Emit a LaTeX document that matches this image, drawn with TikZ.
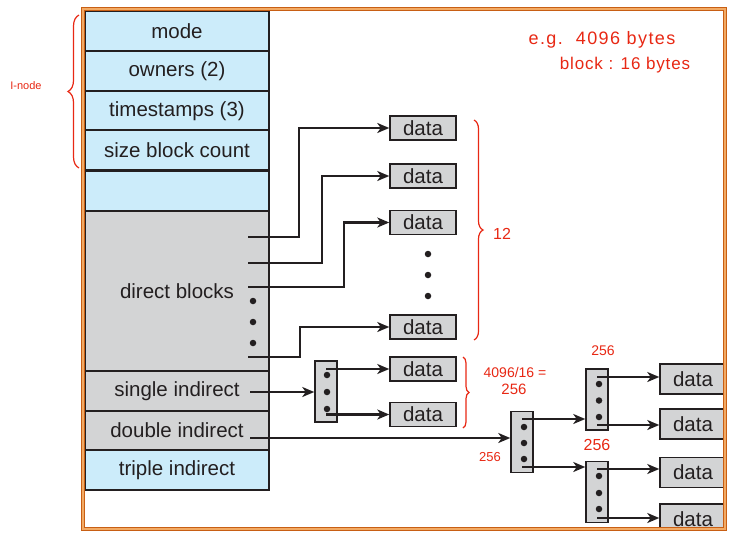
\documentclass[tikz,border=0pt]{standalone}
\usepackage{fontspec}
\setmainfont{Liberation Sans}
\usetikzlibrary{arrows.meta,decorations.pathreplacing,calc}
\definecolor{ablue}{RGB}{204,236,250}
\definecolor{agray}{RGB}{211,212,213}
\definecolor{ink}{RGB}{35,31,32}
\definecolor{hand}{RGB}{232,40,20}
\definecolor{frdark}{RGB}{200,95,20}
\definecolor{frlight}{RGB}{242,170,100}
\begin{document}
\begin{tikzpicture}[x=1pt,y=-1pt,
  row/.style={draw=ink, line width=1.5pt, minimum width=184pt, minimum height=40pt, inner sep=0pt,
    font=\fontsize{20.5}{22}\selectfont, text=ink},
  datasm/.style={draw=ink, line width=1.5pt, fill=agray, minimum width=66pt, minimum height=24pt,
    inner sep=0pt, font=\fontsize{20.5}{22}\selectfont, text=ink},
  databig/.style={datasm, minimum height=30pt},
  idx/.style={draw=ink, line width=1.5pt, fill=agray, minimum width=22pt, minimum height=61pt, inner sep=0pt},
  conn/.style={draw=ink, line width=2.2pt, -{Stealth[length=12pt,width=10pt,inset=3.5pt]}},
  dotn/.style={circle, fill=ink, inner sep=0pt, minimum size=6.5pt},
  hbrace/.style={draw=hand, line width=1.2pt, decorate, decoration={brace, amplitude=#1}},
  note/.style={text=hand, inner sep=0pt}]
\useasboundingbox (0,0) rectangle (735,541);
\fill[white] (0,0) rectangle (735,541);

% inode table
\node[row, fill=ablue] (mode) at (177,31) {mode};
\node[row, fill=ablue] (own) at (177,71) {owners (2)};
\node[row, fill=ablue] (ts) at (177,111) {timestamps (3)};
\node[row, fill=ablue] (sz) at (177,150) {size block count};
\node[row, fill=ablue] (emp) at (177,191) {};
\node[row, fill=agray, minimum height=160pt] (dir) at (177,291) {direct blocks};
\node[row, fill=agray] (sgl) at (177,391) {single indirect};
\node[row, fill=agray, minimum height=39pt] (dbl) at (177,430.5) {double indirect};
\node[row, fill=ablue] (tpl) at (177,470) {triple indirect};

\node[dotn] (dd1) at (253,301) {};
\node[dotn] (dd2) at (253,322) {};
\node[dotn] (dd3) at (253,343) {};

% direct data blocks
\node[datasm] (data1) at (423,128) {data};
\node[datasm] (data2) at (423,176) {data};
\node[datasm] (data3) at (423,222.5) {data};
\node[dotn] (cd1) at (428,254) {};
\node[dotn] (cd2) at (428,275) {};
\node[dotn] (cd3) at (428,296) {};
\node[datasm] (data4) at (423,327) {data};

\coordinate (s1) at (248,237);
\coordinate (s2) at (248,263);
\coordinate (s3) at (248,287);
\coordinate (s4) at (248,357);
\coordinate (s5) at (250,392);
\coordinate (s6) at (250,438);

\draw[conn] (s1) -- ++(51,0) |- (data1.west);
\draw[conn] (s2) -- ++(74,0) |- (data2.west);
\draw[conn] (s3) -- ++(96,0) |- (data3.west);
\draw[conn] (s4) -- ++(52,0) |- (data4.west);

% single indirect
\node[idx] (ind1) at (326,391.5) {};
\node[dotn] at (327,375) {};
\node[dotn] at (327,392) {};
\node[dotn] at (327,409) {};
\node[datasm] (data5) at (423,369) {data};
\node[datasm] (data6) at (423,414.5) {data};
\draw[conn] (s5) -- (s5 -| ind1.west);
\coordinate (i1a) at (326,369);
\coordinate (i1b) at (326,414.5);
\draw[conn] (i1a) -- (data5.west);
\draw[conn] (i1b) -- (data6.west);

% double indirect
\node[idx] (ind2) at (522,442) {};
\node[dotn] at (524,427) {};
\node[dotn] at (524,443) {};
\node[dotn] at (524,459) {};
\node[idx] (ind3) at (597,399.5) {};
\node[dotn] at (599,384) {};
\node[dotn] at (599,400.5) {};
\node[dotn] at (599,417) {};
\node[idx] (ind4) at (597,492) {};
\node[dotn] at (599,476) {};
\node[dotn] at (599,493) {};
\node[dotn] at (599,509) {};
\draw[conn] (s6) -- (s6 -| ind2.west);
\coordinate (i2a) at (522,419);
\coordinate (i2b) at (522,467);
\draw[conn] (i2a) -- (i2a -| ind3.west);
\draw[conn] (i2b) -- (i2b -| ind4.west);

\begin{scope}
\clip (0,0) rectangle (723.5,527.5);
\node[databig] (data7) at (693,379) {data};
\node[databig] (data8) at (693,424) {data};
\node[databig] (data9) at (693,472.5) {data};
\node[databig] (data10) at (693,519) {data};
\end{scope}
\coordinate (i3a) at (597,377);
\coordinate (i3b) at (597,425);
\coordinate (i4a) at (597,469);
\coordinate (i4b) at (597,518);
\draw[conn] (i3a) -- (i3a -| data7.west);
\draw[conn] (i3b) -- (i3b -| data8.west);
\draw[conn] (i4a) -- (i4a -| data9.west);
\draw[conn] (i4b) -- (i4b -| data10.west);

% frame
\draw[draw=frdark, double=frlight, line width=1pt, double distance=1.6pt] (83,9) rectangle (725,529);

% handwritten notes
\draw[hbrace=11pt] (79,168) -- (79,15);
\node[note, font=\fontsize{11}{12}\selectfont] (inode) at (26,86) {I-node};
\node[note, font=\fontsize{18}{19}\selectfont\addfontfeature{LetterSpace=8}] (eg) at (602,40) {e.g.\ \ 4096 bytes};
\node[note, font=\fontsize{17}{18}\selectfont\addfontfeature{LetterSpace=5}] (blk) at (625,65) {block : 16 bytes};
\draw[hbrace=9pt] (474,120) -- (474,340);
\node[note, font=\fontsize{16}{17}\selectfont] (twelve) at (502,234) {12};
\draw[hbrace=6pt] (463,357) -- (463,428);
\node[note, font=\fontsize{14}{15}\selectfont] (calc1) at (515,372) {4096/16 =};
\node[note, font=\fontsize{15}{16}\selectfont] (calc2) at (514,389) {256};
\node[note, font=\fontsize{13}{14}\selectfont] (n1) at (490,457) {256};
\node[note, font=\fontsize{14}{15}\selectfont] (n2) at (603,351) {256};
\node[note, font=\fontsize{16}{17}\selectfont] (n3) at (597,445) {256};
\end{tikzpicture}
\end{document}
